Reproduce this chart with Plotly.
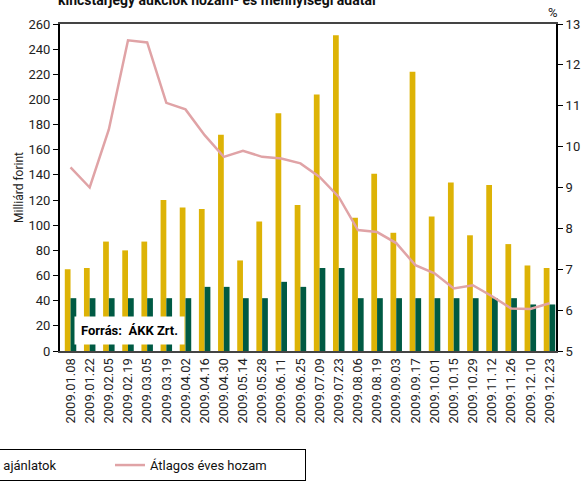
import plotly.graph_objects as go

dates = ["2009.01.08", "2009.01.22", "2009.02.05", "2009.02.19", "2009.03.05", "2009.03.19",
         "2009.04.02", "2009.04.16", "2009.04.30", "2009.05.14", "2009.05.28", "2009.06.11",
         "2009.06.25", "2009.07.09", "2009.07.23", "2009.08.06", "2009.08.19", "2009.09.03",
         "2009.09.17", "2009.10.01", "2009.10.15", "2009.10.29", "2009.11.12", "2009.11.26",
         "2009.12.10", "2009.12.23"]

benyujtott = [65, 66, 87, 80, 87, 120, 114, 113, 172, 72, 103, 189, 116, 204, 251, 106,
              141, 94, 222, 107, 134, 92, 132, 85, 68, 66]
elfogadott = [42, 42, 42, 42, 42, 42, 42, 51, 51, 42, 42, 55, 51, 66, 66, 42,
              42, 42, 42, 42, 42, 42, 42, 42, 37, 37]
hozam = [9.49, 9.00, 10.42, 12.60, 12.55, 11.07, 10.91, 10.28, 9.75, 9.90, 9.75, 9.71,
         9.59, 9.26, 8.77, 7.96, 7.91, 7.64, 7.10, 6.90, 6.53, 6.61, 6.34, 6.04, 6.03, 6.17]

FONT = "Roboto, Liberation Sans, sans-serif"
GOLD = "#ddb306"
GREEN = "#005a43"
PINK = "#e0a3a6"
PAD = "\u00a0" * 9

fig = go.Figure()
fig.add_trace(go.Bar(x=dates, y=benyujtott, name="Benyújtott ajánlatok", legendwidth=60,
                     marker=dict(color=GOLD, line=dict(width=0)), yaxis="y"))
fig.add_trace(go.Bar(x=dates, y=elfogadott, name="Elfogadott ajánlatok", legendwidth=165,
                     marker=dict(color=GREEN, line=dict(width=0)), yaxis="y"))
fig.add_trace(go.Scatter(x=dates, y=hozam, name="Átlagos éves hozam" + PAD, mode="lines",
                         legendwidth=150, line=dict(color=PINK, width=2.5), yaxis="y2"))

fig.update_layout(
    width=587, height=481,
    margin=dict(l=60, r=31, t=24, b=130, autoexpand=False),
    paper_bgcolor="white", plot_bgcolor="white",
    font=dict(family=FONT, size=13, color="#222"),
    barmode="group", bargap=0.4, bargroupgap=0,
    showlegend=True,
    legend=dict(orientation="h", x=-0.5363, xanchor="left", y=-0.3, yanchor="top",
                bordercolor="black", borderwidth=1, font=dict(size=13, color="#111"),
                bgcolor="white", traceorder="normal"),
    xaxis=dict(type="category", range=[-0.55, 25.34], showline=True, linecolor="#444",
               linewidth=2, mirror=True, ticks="", tickangle=-90, showgrid=False,
               tickfont=dict(size=13, color="#222")),
    yaxis=dict(range=[0, 260], dtick=20, showline=True, linecolor="black", linewidth=2,
               ticks="outside", ticklen=5, tickcolor="black", showgrid=False, zeroline=False,
               title=dict(text="Milliárd forint", standoff=2, font=dict(size=12, color="#222"))),
    yaxis2=dict(range=[5, 13], dtick=1, overlaying="y", side="right", showline=True,
                linecolor="black", linewidth=2, ticks="outside", ticklen=5, tickcolor="black",
                showgrid=False, zeroline=False),
    annotations=[
        dict(text="%", xref="paper", yref="paper", x=0.993, y=1.0, xanchor="center",
             yanchor="bottom", yshift=2, showarrow=False, font=dict(size=13, color="#222")),
        dict(text="<b>Forrás:  ÁKK Zrt.</b>", xref="paper", yref="paper", x=0.029, y=0.018,
             xanchor="left", yanchor="bottom", showarrow=False, bgcolor="white", borderpad=6,
             font=dict(size=13, color="black")),
        dict(text="<b>kincstárjegy aukciók hozam- és mennyiségi adatai</b>", xref="paper",
             yref="paper", x=-0.008, y=1.043, xanchor="left", yanchor="bottom",
             showarrow=False, font=dict(size=14, color="#111")),
    ],
)

fig.write_html("out.html", config={"displayModeBar": False},
               post_script="document.body.style.margin='0';")
